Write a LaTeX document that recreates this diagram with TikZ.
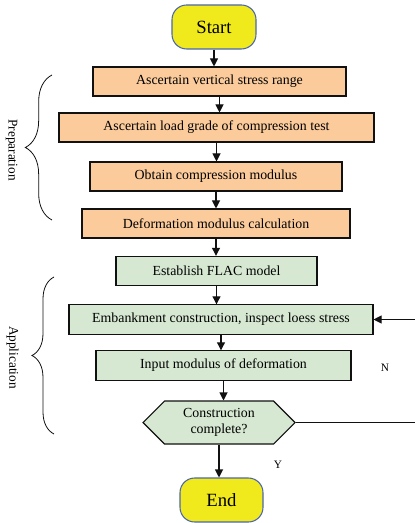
\documentclass[tikz,border=0pt]{standalone}
\usepackage{fontspec}
\setmainfont{Liberation Serif}
\usetikzlibrary{arrows.meta,shapes.symbols,decorations.pathreplacing}
\definecolor{ink}{HTML}{111111}
\definecolor{termc}{HTML}{F0EA1C}
\definecolor{termb}{HTML}{4B66AE}
\definecolor{prepc}{HTML}{FBCB9C}
\definecolor{applc}{HTML}{D6E8D2}
\tikzset{
  term/.style={draw=termb,fill=termc,line width=0.8pt,rounded corners=11pt,minimum height=33pt,font=\fontsize{14}{16}\selectfont},
  prep/.style={draw=ink,fill=prepc,line width=0.8pt,minimum height=21.75pt,font=\fontsize{10.4}{12}\selectfont},
  appl/.style={draw=ink,fill=applc,line width=0.8pt,minimum height=22pt,font=\fontsize{10.4}{12}\selectfont},
  test/.style={signal,signal to=east and west,draw=ink,fill=applc,line width=0.8pt,minimum height=32.25pt,
               inner sep=1pt,align=center,font=\fontsize{10.4}{12}\selectfont},
  arr/.style={ink,line width=0.8pt,-{Triangle[length=6pt,width=6pt]}},
  grp/.style={ink,line width=0.6pt,decorate},
  lbl/.style={font=\fontsize{10}{12}\selectfont},
  slbl/.style={font=\fontsize{8.5}{10}\selectfont},
}
\begin{document}
\begin{tikzpicture}[x=0.75pt,y=-0.75pt]
  \useasboundingbox (0,0) rectangle (414,523);
  % ---------- terminals ----------
  \node[term,minimum width=63pt] (start) at (214,27) {Start};
  \node[term,minimum width=62.25pt] (stop) at (221.5,500) {End};
  % ---------- preparation ----------
  \node[prep,minimum width=189.75pt] (range) at (219.5,81.5) {Ascertain vertical stress range};
  \node[prep,minimum width=236.25pt] (grade) at (216.5,127.5) {Ascertain load grade of compression test};
  \node[prep,minimum width=189pt] (cmod) at (216,176.5) {Obtain compression modulus};
  \node[prep,minimum width=201pt] (dmod) at (216,223.5) {Deformation modulus calculation};
  % ---------- application ----------
  \node[appl,minimum width=150.75pt] (flac) at (216.5,271) {Establish FLAC model};
  \node[appl,minimum width=228pt] (emb) at (221,319.5) {Embankment construction, inspect loess stress};
  \node[appl,minimum width=191.25pt] (input) at (223.5,365.5) {Input modulus of deformation};
  \node[test,minimum width=114pt] (done) at (219,422.5) {Construction\\complete?};
  % ---------- flow ----------
  \foreach \a/\b in {start/range,range/grade,grade/cmod,cmod/dmod,dmod/flac,flac/emb,emb/input,input/done,done/stop}
    \draw[arr] (\a.south) -- (\a.south |- \b.north);
  \coordinate (back) at (420,422.5);
  \draw[arr] (done.east) -- (back) |- (emb.east);
  \node[slbl] (no) at (385,368) {N};
  \node[slbl] (yes) at (278,465) {Y};
  % ---------- groups ----------
  \draw[grp,decoration={brace,amplitude=20pt}] (52,220) -- (52,75);
  \node[lbl,rotate=-90] (prepl) at (11.5,150) {Preparation};
  \draw[grp,decoration={brace,amplitude=16.5pt}] (54,434) -- (54,277);
  \node[lbl,rotate=-90] (appll) at (12.5,357.5) {Application};
\end{tikzpicture}
\end{document}
